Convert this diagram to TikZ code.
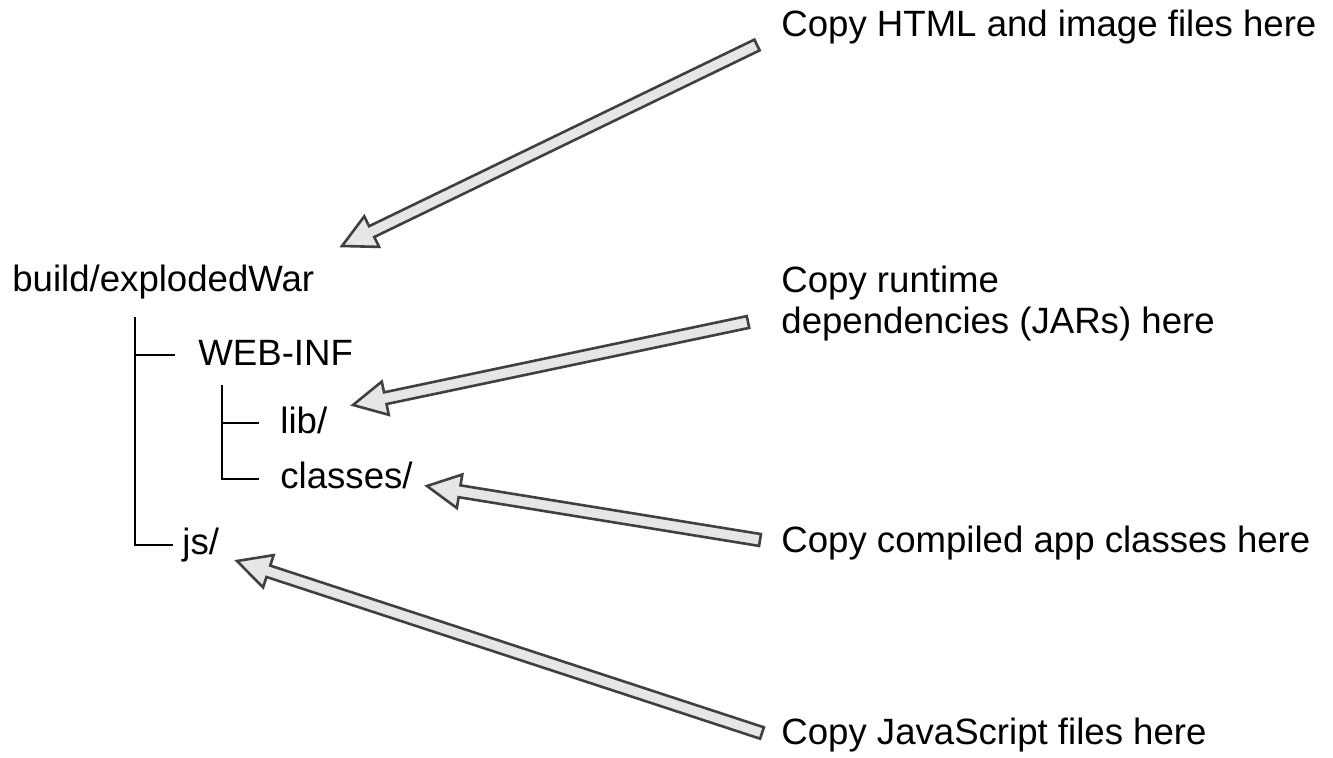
\documentclass[tikz,border=0pt]{standalone}
\usepackage{fontspec}
\setmainfont{Liberation Sans}
\usetikzlibrary{calc}
\definecolor{arrowfill}{HTML}{E6E6E6}
\definecolor{arrowline}{HTML}{404040}
\tikzset{
  lbl/.style={anchor=base west, inner sep=0pt, font=\fontsize{18.3pt}{20.5pt}\selectfont, text=black},
  treeline/.style={draw=black, line width=0.75pt},
  fatarrowstyle/.style={fill=arrowfill, draw=arrowline, line width=1.3pt, line join=miter},
}
% #1 tail coordinate, #2 tip coordinate
\newcommand\fatarrow[2]{%
  \coordinate (#2-h) at ($(#2)!16.5pt!(#1)$);
  \draw[fatarrowstyle]
    ($(#1)!3pt!90:(#2)$) -- ($(#2-h)!3pt!90:(#2)$) -- ($(#2-h)!8.5pt!90:(#2)$)
    -- (#2) -- ($(#2-h)!8.5pt!-90:(#2)$) -- ($(#2-h)!3pt!-90:(#2)$)
    -- ($(#1)!3pt!-90:(#2)$) -- cycle;
}
\begin{document}
\begin{tikzpicture}[x=0.5pt, y=-0.5pt]
\useasboundingbox (0,0) rectangle (1333,758);
% tree labels
\node[lbl] (root) at (12,292) {build/explodedWar};
\node[lbl] (webinf) at (198,366) {WEB-INF};
\node[lbl] (lib) at (280,434) {lib/};
\node[lbl] (classes) at (280,489) {classes/};
\node[lbl] (js) at (182,555) {js/};
% tree lines
\coordinate (v1top) at (135,317);
\coordinate (v1web) at (135,355);
\coordinate (v1js) at (135,545);
\coordinate (webend) at (175,355);
\coordinate (jsend) at (173,545);
\coordinate (v2top) at (222,385);
\coordinate (v2lib) at (222,423);
\coordinate (v2cls) at (222,479);
\coordinate (libend) at (259,423);
\coordinate (clsend) at (259,479);
\draw[treeline] (v1top) -- (v1js) -- (jsend);
\draw[treeline] (v1web) -- (webend);
\draw[treeline] (v2top) -- (v2cls) -- (clsend);
\draw[treeline] (v2lib) -- (libend);
% annotation labels
\node[lbl] (n1) at (781,37) {Copy HTML and image files here};
\node[lbl, align=left] (n2) at (781,334) {Copy runtime\\dependencies (JARs) here};
\node[lbl] (n3) at (781,553) {Copy compiled app classes here};
\node[lbl] (n4) at (781,744) {Copy JavaScript files here};
% arrows
\coordinate (t1) at (757,45);
\coordinate (p1) at (342,246);
\coordinate (t2) at (748,322);
\coordinate (p2) at (353,405);
\coordinate (t3) at (760,540);
\coordinate (p3) at (427,486);
\coordinate (t4) at (762,733);
\coordinate (p4) at (237,561);
\fatarrow{t1}{p1}
\fatarrow{t2}{p2}
\fatarrow{t3}{p3}
\fatarrow{t4}{p4}
\end{tikzpicture}
\end{document}
